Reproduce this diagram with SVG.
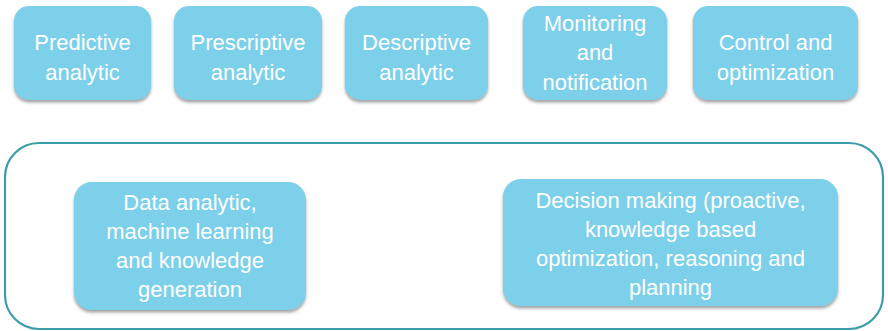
<svg xmlns="http://www.w3.org/2000/svg" width="888" height="331" viewBox="0 0 888 331">
<defs>
<filter id="sh" x="-10%" y="-10%" width="120%" height="130%">
<feDropShadow dx="0" dy="2.5" stdDeviation="1.5" flood-color="#555" flood-opacity="0.55"/>
</filter>
</defs>
<style>
.box{fill:#7dd0ea;filter:url(#sh)}
.t{font-family:"Liberation Sans",Arial,sans-serif;font-size:22px;fill:#ffffff;text-anchor:middle}
.frame{fill:none;stroke:#3c9ca9;stroke-width:2.2}
</style>
<rect width="888" height="331" fill="#ffffff"/>
<g id="container"><rect class="frame" x="5" y="143" width="878" height="186" rx="34" ry="34"/></g>
<g id="n1"><rect class="box" x="14" y="6" width="137" height="94" rx="15"/><text class="t"><tspan x="82.5" y="50">Predictive</tspan><tspan x="82.5" y="80">analytic</tspan></text></g>
<g id="n2"><rect class="box" x="174" y="6" width="148" height="94" rx="15"/><text class="t"><tspan x="248" y="50">Prescriptive</tspan><tspan x="248" y="80">analytic</tspan></text></g>
<g id="n3"><rect class="box" x="345" y="6" width="143" height="94" rx="15"/><text class="t"><tspan x="416.5" y="50">Descriptive</tspan><tspan x="416.5" y="80">analytic</tspan></text></g>
<g id="n4"><rect class="box" x="523" y="6" width="144" height="94" rx="15"/><text class="t"><tspan x="595" y="31">Monitoring</tspan><tspan x="595" y="60">and</tspan><tspan x="595" y="90">notification</tspan></text></g>
<g id="n5"><rect class="box" x="693" y="6" width="165" height="94" rx="15"/><text class="t"><tspan x="775.5" y="50">Control and</tspan><tspan x="775.5" y="80">optimization</tspan></text></g>
<g id="n6"><rect class="box" x="74" y="182" width="232" height="128" rx="18"/><text class="t"><tspan x="190" y="210">Data analytic,</tspan><tspan x="190" y="239">machine learning</tspan><tspan x="190" y="268">and knowledge</tspan><tspan x="190" y="297">generation</tspan></text></g>
<g id="n7"><rect class="box" x="503" y="179" width="335" height="127" rx="18"/><text class="t"><tspan x="670.5" y="208">Decision making (proactive,</tspan><tspan x="670.5" y="237">knowledge based</tspan><tspan x="670.5" y="266">optimization, reasoning and</tspan><tspan x="670.5" y="295">planning</tspan></text></g>
<g id="connectors"></g>
</svg>
